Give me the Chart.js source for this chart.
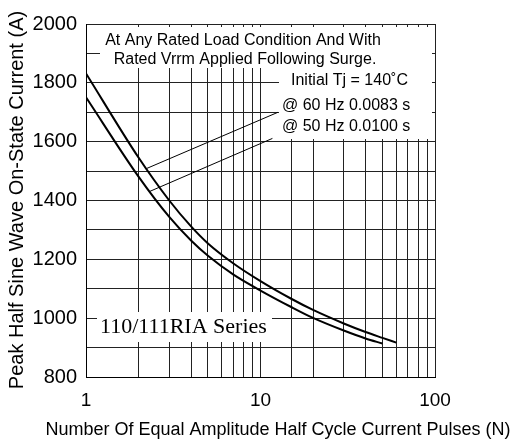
<!DOCTYPE html>
<html>
<head>
<meta charset="utf-8">
<script src="https://cdn.jsdelivr.net/npm/chart.js@4.4.0/dist/chart.umd.min.js"></script>
<style>
  body { margin: 0; background: #fff; }
</style>
</head>
<body>
<canvas id="surge" width="515" height="443"></canvas>
<script>
// curva 60 Hz (superior) y 50 Hz (inferior)
const pulsos60 = [1, 2, 3, 4, 5, 7, 10, 15, 20, 30, 40, 50, 60];
const corriente60 = [1832, 1546, 1400, 1312, 1254, 1186, 1126, 1066, 1028, 982, 953, 933, 917];
const pulsos50 = [1, 2, 3, 4, 5, 7, 10, 15, 20, 30, 40, 50];
const corriente50 = [1751, 1481, 1344, 1264, 1212, 1148, 1094, 1038, 1001, 958, 931, 914];

// lineas de llamada hacia los textos
const llamada60X = [2.23, 12.6];
const llamada60Y = [1509, 1700];
const llamada50X = [2.3, 11.7];
const llamada50Y = [1430, 1611];

const xEtiquetas = [1, 10, 100];

function puntos(xs, ys) {
  return xs.map((x, i) => ({ x: x, y: ys[i] }));
}

const fuente = '"Liberation Sans", Arial, sans-serif';

// cajas blancas y textos de anotacion
const notas = {
  id: 'notas',
  beforeDatasetsDraw(chart) {
    const ctx = chart.ctx;
    ctx.save();
    ctx.fillStyle = '#fff';
    ctx.fillRect(100, 27, 332, 41);
    ctx.fillRect(279, 67, 153, 72);
    ctx.fillRect(97, 312, 175, 30);
    ctx.restore();
  },
  afterDraw(chart) {
    const ctx = chart.ctx;
    ctx.save();
    ctx.fillStyle = '#000';
    ctx.textBaseline = 'middle';
    ctx.textAlign = 'center';
    ctx.font = '16px ' + fuente;
    ctx.fillText('At Any Rated Load Condition And With', 243, 41);
    ctx.fillText('Rated Vrrm Applied Following Surge.', 245, 60);
    ctx.textAlign = 'left';
    ctx.fillText('Initial Tj = 140˚C', 291, 81);
    ctx.fillText('@ 60 Hz 0.0083 s', 282, 106);
    ctx.fillText('@ 50 Hz 0.0100 s', 282, 127);

    ctx.font = '22px "Liberation Serif", "Times New Roman", serif';
    ctx.fillText('110/111RIA Series', 100, 327);

    // titulos de ejes
    ctx.textAlign = 'center';
    ctx.font = '18px ' + fuente;
    ctx.fillText('Number Of Equal Amplitude Half Cycle Current Pulses (N)', 278, 430);
    ctx.translate(17, 200);
    ctx.rotate(-Math.PI / 2);
    ctx.font = '20px ' + fuente;
    ctx.fillText('Peak Half Sine Wave On-State Current (A)', 0, 0);
    ctx.restore();
  }
};

const ctx = document.getElementById('surge').getContext('2d');
new Chart(ctx, {
  type: 'line',
  data: {
    datasets: [
      { data: puntos(pulsos60, corriente60), borderColor: '#000', borderWidth: 2, pointRadius: 0, cubicInterpolationMode: 'monotone' },
      { data: puntos(pulsos50, corriente50), borderColor: '#000', borderWidth: 2, pointRadius: 0, cubicInterpolationMode: 'monotone' },
      { data: puntos(llamada60X, llamada60Y), borderColor: '#000', borderWidth: 1, pointRadius: 0 },
      { data: puntos(llamada50X, llamada50Y), borderColor: '#000', borderWidth: 1, pointRadius: 0 }
    ]
  },
  options: {
    responsive: false,
    animation: false,
    events: [],
    layout: { padding: { top: 24, right: 80, left: 0, bottom: 0 } },
    plugins: { legend: { display: false }, tooltip: { enabled: false } },
    scales: {
      x: {
        type: 'logarithmic',
        min: 1,
        max: 100,
        grid: { color: '#222', lineWidth: 1, drawTicks: false },
        border: { color: '#000', width: 1 },
        ticks: {
          autoSkip: false,
          maxRotation: 0,
          padding: 12,
          color: '#000',
          font: { family: fuente, size: 19 },
          callback: (v) => xEtiquetas.includes(v) ? String(v) : ''
        },
        afterFit: (scale) => { scale.height = 66; }
      },
      y: {
        min: 800,
        max: 2000,
        grid: { color: '#222', lineWidth: 1, drawTicks: false },
        border: { color: '#000', width: 1 },
        ticks: {
          stepSize: 100,
          padding: 9,
          color: '#000',
          font: { family: fuente, size: 20 },
          callback: (v) => v % 200 === 0 ? String(v) : ''
        },
        afterFit: (scale) => { scale.width = 86; }
      }
    }
  },
  plugins: [notas]
});
</script>
</body>
</html>
